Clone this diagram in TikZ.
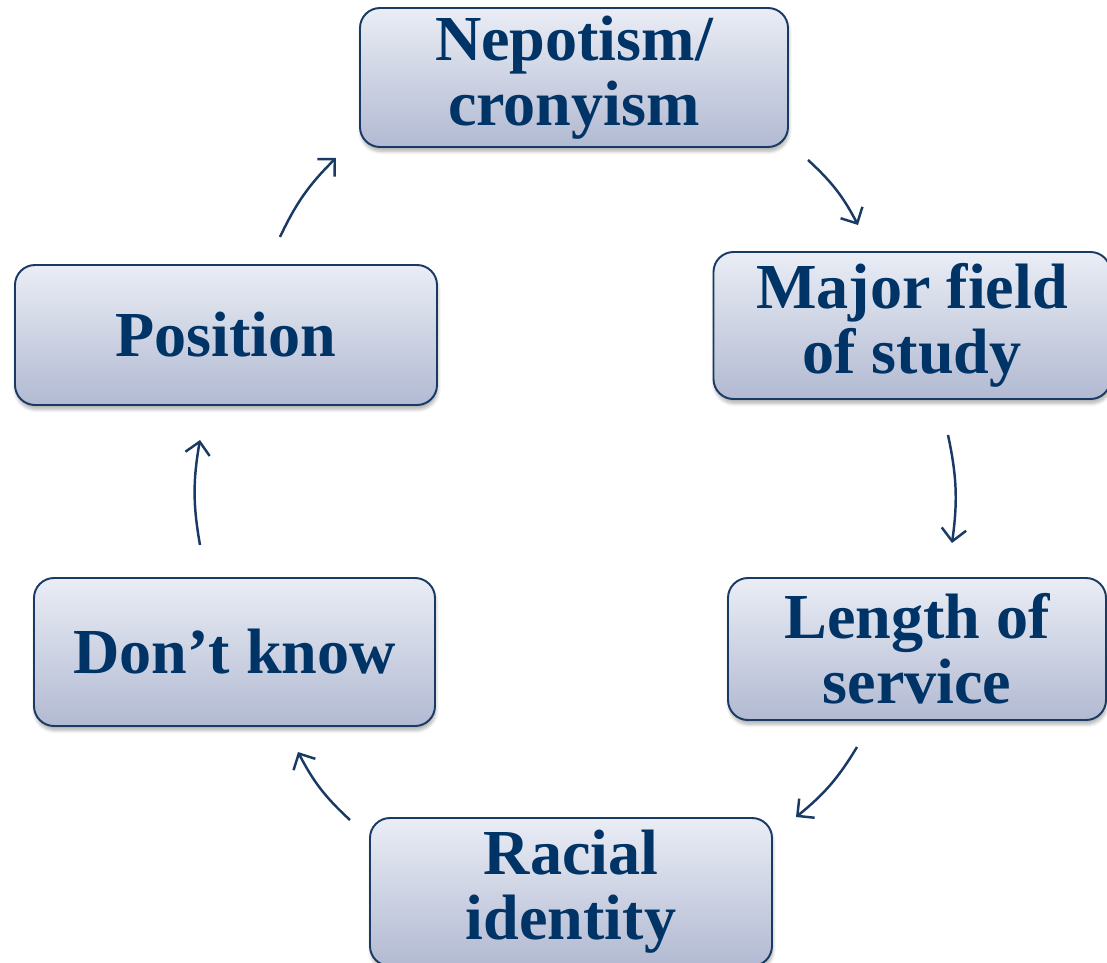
\documentclass[tikz,border=0pt]{standalone}
\usepackage{fontspec}
\setmainfont{Liberation Serif}
\usetikzlibrary{arrows.meta,shadows.blur}
\definecolor{stagetext}{RGB}{0,51,102}
\definecolor{stageline}{RGB}{24,58,100}
\definecolor{stagetop}{RGB}{234,237,245}
\definecolor{stagebottom}{RGB}{178,186,210}
\tikzset{
  stage/.style={draw=stageline, line width=1.1pt, rounded corners=0.4cm,
    top color=stagetop, bottom color=stagebottom, align=center,
    text=stagetext, font=\fontsize{36.5}{37}\selectfont\bfseries,
    blur shadow={shadow xshift=0.5pt, shadow yshift=-2.5pt, shadow opacity=30, shadow blur steps=6}},
  cycle/.style={draw=stageline, line width=1.4pt,
    -{Straight Barb[length=7pt,width=14pt,line width=1.4pt]}}
}
\begin{document}
\begin{tikzpicture}
      \useasboundingbox (-11.44,-9.54) rectangle (10.70,9.70);
      \path
        (0.04,8.15) node[stage, minimum width=8.56cm, minimum height=2.78cm] (nepotism){Nepotism/\\cronyism}
        (6.80,3.19) node[stage, minimum width=7.94cm, minimum height=2.94cm] (major){Major field\\of study}
        (6.90,-3.28) node[stage, minimum width=7.56cm, minimum height=2.84cm] (length){Length of\\service}
        (-0.02,-8.14) node[stage, minimum width=8.04cm, minimum height=2.96cm] (racial){Racial\\identity}
        (-6.75,-3.34) node[stage, minimum width=8.02cm, minimum height=2.96cm] (dontknow){Don’t know}
        (-6.92,3.00) node[stage, minimum width=8.44cm, minimum height=2.80cm] (position){Position};
      \path
        (4.72,6.50) coordinate (a1) (5.72,5.20) coordinate (b1)
        (7.52,1.00) coordinate (a2) (7.60,-1.16) coordinate (b2)
        (5.70,-5.24) coordinate (a3) (4.48,-6.64) coordinate (b3)
        (-4.44,-6.70) coordinate (a4) (-5.48,-5.34) coordinate (b4)
        (-7.44,-1.20) coordinate (a5) (-7.44,0.90) coordinate (b5)
        (-5.84,4.96) coordinate (a6) (-4.72,6.54) coordinate (b6);
      \begin{scope}[cycle]
        \draw (a1) to[bend left=10] (b1);
        \draw (a2) to[bend left=10] (b2);
        \draw (a3) to[bend left=10] (b3);
        \draw (a4) to[bend left=10] (b4);
        \draw (a5) to[bend left=10] (b5);
        \draw (a6) to[bend left=10] (b6);
      \end{scope}
    \end{tikzpicture}
\end{document}
